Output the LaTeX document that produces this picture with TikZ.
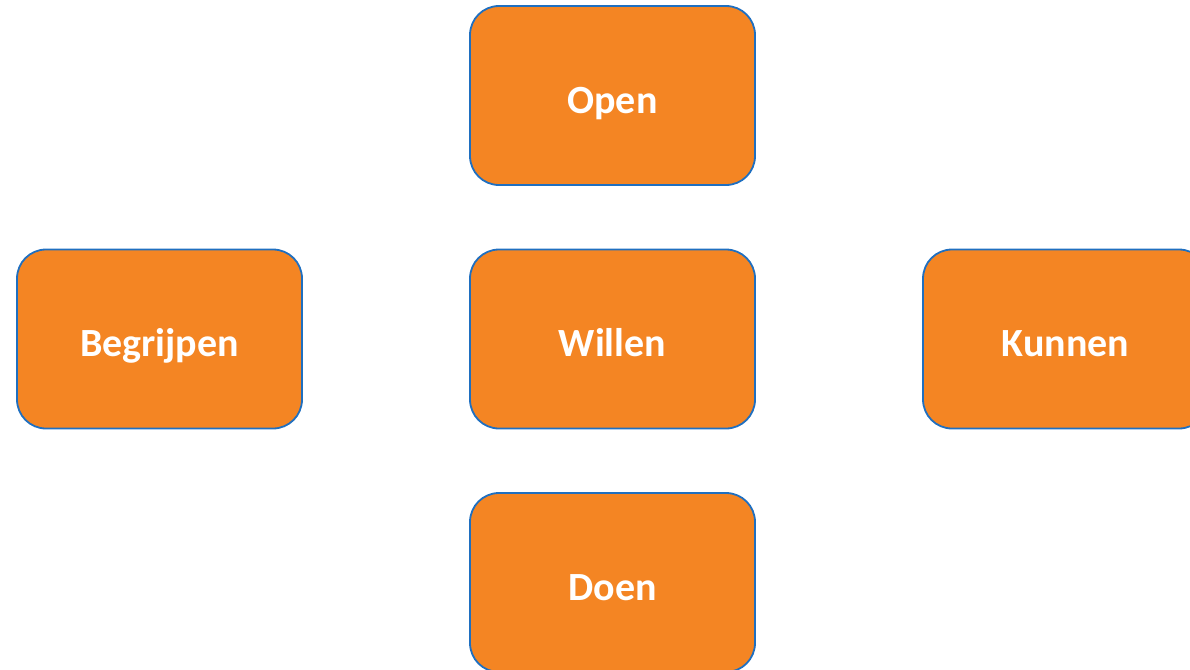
\documentclass[tikz,border=0pt]{standalone}
\usepackage{fontspec}
\setmainfont{Carlito}
\definecolor{boxorange}{HTML}{F48523}
\definecolor{boxblue}{HTML}{1F6FC0}
\begin{document}
\begin{tikzpicture}[x=1pt,y=-1pt,
  card/.style={draw=boxblue, line width=1.8pt, fill=boxorange, rounded corners=29pt,
    minimum width=285pt, minimum height=179pt, inner sep=0pt, text=white,
    text height=35pt, text depth=0pt,
    font=\fontsize{40}{46}\selectfont\bfseries}]
\path[use as bounding box] (0,0) rectangle (1190,669);
\clip (0,0) rectangle (1190,669);
\node[card] (open) at (612.5,95.5) {Open};
\node[card] (willen) at (612.5,339) {Willen};
\node[card] (begrijpen) at (159.5,339) {Begrijpen};
\node[card] (kunnen) at (1065.5,339) {Kunnen};
\node[card] (doen) at (612.5,582.5) {Doen};
\end{tikzpicture}
\end{document}
